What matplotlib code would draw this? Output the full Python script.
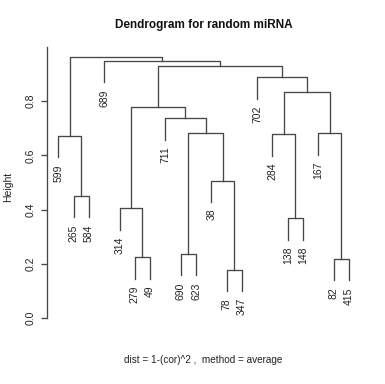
import matplotlib
matplotlib.use('Agg')
import matplotlib.pyplot as plt

plt.rcParams['font.family'] = ['Liberation Sans', 'DejaVu Sans']

# leaf order as drawn, left to right
leaf_labels = ['599', '265', '584', '689', '314', '279', '49', '711', '690', '623',
               '38', '78', '347', '702', '284', '138', '148', '167', '82', '415']

# merge steps: (left, right, height); str = leaf, int = earlier merge index
merge_left = ['78', '82', '279', '690', '138', '314', '265', '38', '599', '284',
              '167', 3, '711', 5, 9, '702', 13, '689', 8]
merge_right = ['347', '415', '49', '623', '148', 2, '584', 0, 6, 4,
               1, 7, 11, 12, 10, 14, 15, 16, 17]
merge_height = [0.178, 0.218, 0.225, 0.237, 0.368, 0.405, 0.450, 0.507, 0.672, 0.677,
                0.681, 0.681, 0.736, 0.779, 0.832, 0.887, 0.929, 0.947, 0.963]

y_ticks = [0.0, 0.2, 0.4, 0.6, 0.8]

LINE = '#474747'
TEXT = '#222222'

fig = plt.figure(figsize=(3.85, 3.84), dpi=100)
ax = fig.add_axes([46.7 / 385, 1 - 325 / 384, (360.6 - 46.7) / 385, 285 / 384])

hang = 0.1 * (max(merge_height) - min(merge_height))
leaf_x = {lab: i + 1 for i, lab in enumerate(leaf_labels)}
node_x = []


def child_pos(c, h):
    if isinstance(c, str):
        x = leaf_x[c]
        bottom = h - hang
        ax.annotate(c, (x, bottom), xytext=(0, -5), textcoords='offset points',
                    rotation=90, ha='center', va='top', fontsize=7.5, color=TEXT)
        return x, bottom
    return node_x[c], merge_height[c]


for l, r, h in zip(merge_left, merge_right, merge_height):
    xl, yl = child_pos(l, h)
    xr, yr = child_pos(r, h)
    ax.plot([xl, xl, xr, xr], [yl, h, h, yr], color=LINE, lw=0.95)
    node_x.append((xl + xr) / 2)

n = len(leaf_labels)
pad = 0.04 * (n - 1)
ax.set_xlim(1 - pad, n + pad)
ax.set_ylim(-0.0247, 1.0247)

for s in ['top', 'right', 'bottom']:
    ax.spines[s].set_visible(False)
ax.spines['left'].set_bounds(0, 1.0)
ax.spines['left'].set_color(LINE)
ax.spines['left'].set_linewidth(0.95)
ax.set_xticks([])
ax.set_yticks(y_ticks)
ax.set_yticklabels([f'{t:.1f}' for t in y_ticks], rotation=90, va='center',
                   fontsize=7.5, color=TEXT)
ax.tick_params(axis='y', length=4.3, width=0.95, color=LINE, pad=3.4)

fig.text(203.5 / 385, 1 - 25 / 384, 'Dendrogram for random miRNA', ha='center',
         va='center', fontsize=8.5, fontweight='bold', color='#111111')
fig.text(203.5 / 385, 1 - 360 / 384, 'dist = 1-(cor)^2 ,  method = average', ha='center',
         va='center', fontsize=7.2, color=TEXT)
fig.text(8.5 / 385, 1 - 187 / 384, 'Height', rotation=90, ha='center', va='center',
         fontsize=7.5, color=TEXT)

fig.savefig('out.png', dpi=100, facecolor='white')
